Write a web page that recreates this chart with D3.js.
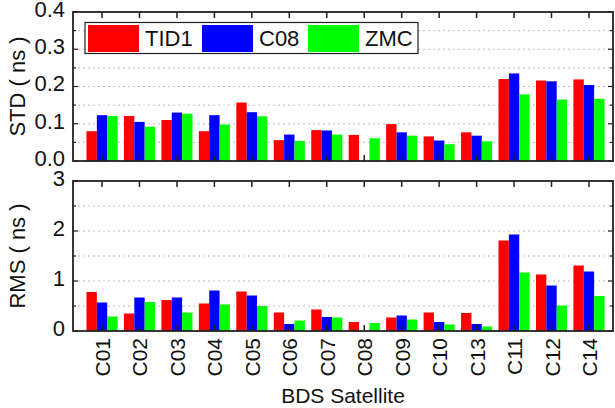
<!DOCTYPE html>
<html>
<head>
<meta charset="utf-8">
<script src="https://cdn.jsdelivr.net/npm/d3@7"></script>
<style>
  body { margin: 0; background: #fff; }
  svg { display: block; font-family: "Liberation Sans", Arial, sans-serif; }
</style>
</head>
<body>
<svg id="chart" width="615" height="408"></svg>
<script>
const satellites = ["C01", "C02", "C03", "C04", "C05", "C06", "C07", "C08", "C09", "C10", "C13", "C11", "C12", "C14"];
const seriesNames = ["TID1", "C08", "ZMC"];
const seriesColors = ["#ff0000", "#0000ff", "#00ff00"];

// STD (ns)
const stdTID1 = [0.080, 0.121, 0.110, 0.080, 0.157, 0.056, 0.083, 0.070, 0.099, 0.066, 0.077, 0.220, 0.216, 0.219];
const stdC08  = [0.123, 0.105, 0.130, 0.123, 0.131, 0.071, 0.082, 0.000, 0.077, 0.055, 0.068, 0.235, 0.214, 0.204];
const stdZMC  = [0.121, 0.092, 0.127, 0.098, 0.120, 0.054, 0.071, 0.061, 0.068, 0.045, 0.053, 0.179, 0.165, 0.167];

// RMS (ns)
const rmsTID1 = [0.78, 0.35, 0.62, 0.55, 0.79, 0.37, 0.43, 0.18, 0.27, 0.37, 0.36, 1.81, 1.13, 1.31];
const rmsC08  = [0.57, 0.67, 0.67, 0.81, 0.71, 0.14, 0.28, 0.00, 0.31, 0.18, 0.14, 1.93, 0.91, 1.19];
const rmsZMC  = [0.29, 0.58, 0.37, 0.53, 0.50, 0.21, 0.27, 0.16, 0.23, 0.13, 0.09, 1.17, 0.51, 0.70];

const stdTicks = [0, 0.1, 0.2, 0.3, 0.4];
const rmsTicks = [0, 1, 2, 3];

const svg = d3.select("#chart");
const left = 73, right = 613;
const fs = 22;

const x = d3.scaleBand().domain(satellites).range([83.3, 607.7]).paddingInner(0.17).paddingOuter(0.085);
const xs = d3.scaleBand().domain(seriesNames).range([0, x.bandwidth()]);

function drawPanel(series, yScale, ticks, minorStep, fmt, label) {
    const top = yScale.range()[1], bottom = yScale.range()[0];
    const g = svg.append("g");

    // dotted grid at every minor step
    const grid = d3.range(minorStep, yScale.domain()[1] - 1e-9, minorStep);
    g.selectAll(".grid").data(grid).join("line")
        .attr("x1", left).attr("x2", right)
        .attr("y1", d => yScale(d)).attr("y2", d => yScale(d))
        .attr("stroke", "#bdbdbd").attr("stroke-width", 1)
        .attr("stroke-dasharray", "2,3");

    // bars
    const rows = satellites.map((s, i) => ({ sat: s, vals: series.map((arr, k) => ({ name: seriesNames[k], v: arr[i], c: seriesColors[k] })) }));
    g.selectAll(".grp").data(rows).join("g")
        .attr("transform", d => `translate(${x(d.sat)},0)`)
        .selectAll("rect").data(d => d.vals.filter(v => v.v > 0)).join("rect")
        .attr("x", d => xs(d.name))
        .attr("width", xs.bandwidth())
        .attr("y", d => yScale(d.v))
        .attr("height", d => bottom - yScale(d.v))
        .attr("fill", d => d.c);

    // inner tick marks (top and bottom at category centres)
    const cx = s => x(s) + x.bandwidth() / 2;
    g.selectAll(".tt").data(satellites).join("line")
        .attr("x1", cx).attr("x2", cx).attr("y1", top).attr("y2", top + 6)
        .attr("stroke", "#222").attr("stroke-width", 1.5);
    g.selectAll(".tb").data(satellites).join("line")
        .attr("x1", cx).attr("x2", cx).attr("y1", bottom).attr("y2", bottom - 6)
        .attr("stroke", "#222").attr("stroke-width", 1.5);

    // y ticks both sides, inward
    const minor = d3.range(0, yScale.domain()[1] + 1e-9, minorStep);
    [left, right].forEach((xx, side) => {
        const dir = side === 0 ? 1 : -1;
        g.selectAll(".ym" + side).data(minor).join("line")
            .attr("x1", xx).attr("x2", d => xx + dir * (ticks.some(t => Math.abs(t - d) < 1e-9) ? 5 : 3))
            .attr("y1", d => yScale(d)).attr("y2", d => yScale(d))
            .attr("stroke", "#222").attr("stroke-width", 1.2);
    });

    // frame
    g.append("rect").attr("x", left).attr("y", top).attr("width", right - left).attr("height", bottom - top)
        .attr("fill", "none").attr("stroke", "#222").attr("stroke-width", 1.8);

    // y tick labels
    g.selectAll(".yl").data(ticks).join("text")
        .attr("x", 65).attr("y", d => yScale(d) - 1)
        .attr("text-anchor", "end").attr("dominant-baseline", "middle")
        .attr("font-size", fs).attr("fill", "#111")
        .text(d => d3.format(fmt)(d));

    // y axis title
    g.append("text")
        .attr("transform", `translate(25,${(top + bottom) / 2}) rotate(-90)`)
        .attr("text-anchor", "middle")
        .attr("font-size", fs).attr("fill", "#111")
        .text(label);
}

const yStd = d3.scaleLinear().domain([0, 0.4]).range([161, 12]);
const yRms = d3.scaleLinear().domain([0, 3]).range([331, 181]);

drawPanel([stdTID1, stdC08, stdZMC], yStd, stdTicks, 0.05, ".1f", "STD ( ns )");
drawPanel([rmsTID1, rmsC08, rmsZMC], yRms, rmsTicks, 0.5, "d", "RMS ( ns )");

// legend
const lg = svg.append("g");
lg.append("rect").attr("x", 85).attr("y", 22.5).attr("width", 333).attr("height", 31)
    .attr("fill", "#fff").attr("stroke", "#222").attr("stroke-width", 1.2);
const legX = [88, 202, 308];
seriesNames.forEach((n, i) => {
    lg.append("rect").attr("x", legX[i]).attr("y", 25).attr("width", 51).attr("height", 27).attr("fill", seriesColors[i]);
    lg.append("text").attr("x", legX[i] + 57).attr("y", 46)
        .attr("font-size", fs).attr("fill", "#111").text(n);
});

// x tick labels
svg.selectAll(".xl").data(satellites).join("text")
    .attr("transform", d => `translate(${x(d) + x.bandwidth() / 2 + 8},338) rotate(-90)`)
    .attr("text-anchor", "end")
    .attr("font-size", fs - 1).attr("fill", "#111")
    .text(d => d);

svg.append("text").attr("x", 343).attr("y", 403)
    .attr("text-anchor", "middle").attr("font-size", 21).attr("fill", "#111")
    .text("BDS Satellite");
</script>
</body>
</html>
